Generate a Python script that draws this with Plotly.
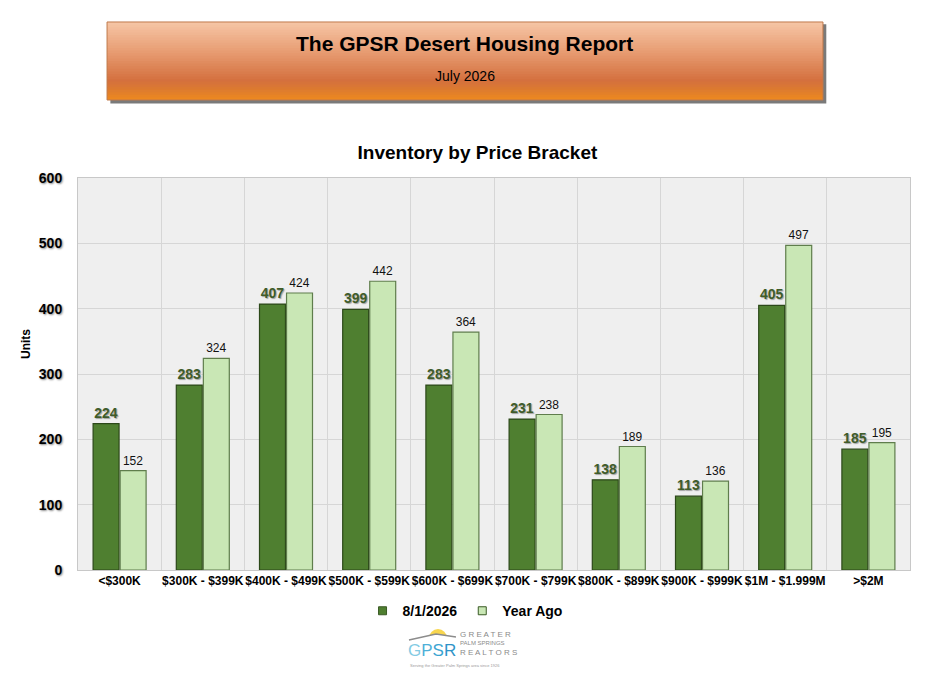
import plotly.graph_objects as go

brackets = ["<$300K", "$300K - $399K", "$400K - $499K", "$500K - $599K", "$600K - $699K",
            "$700K - $799K", "$800K - $899K", "$900K - $999K", "$1M - $1.999M", ">$2M"]
current = [224, 283, 407, 399, 283, 231, 138, 113, 405, 185]
year_ago = [152, 324, 424, 442, 364, 238, 189, 136, 497, 195]
y_ticks = [0, 100, 200, 300, 400, 500, 600]

FONT = "Liberation Sans, Arial, sans-serif"
DARK = "#4f7f30"
LIGHT = "#c9e7b5"

fig = go.Figure()
fig.add_trace(go.Bar(
    x=brackets, y=current, name="8/1/2026", showlegend=False,
    marker=dict(color=DARK, line=dict(color="#2c4819", width=1.2)),
    text=current, textposition="outside", cliponaxis=False,
    textfont=dict(family=FONT, size=14, color="#3f5c2a", weight="bold",
                  shadow="1px 1px 1px #a0a0a0"),
))
fig.add_trace(go.Bar(
    x=brackets, y=year_ago, name="Year Ago", showlegend=False,
    marker=dict(color=LIGHT, line=dict(color="#5f7d4c", width=1.2)),
    text=year_ago, textposition="outside", cliponaxis=False,
    textfont=dict(family=FONT, size=12, color="#111111"),
))
# small square legend keys
for name, col in [("8/1/2026", DARK), ("Year Ago", LIGHT)]:
    fig.add_trace(go.Scatter(x=[None], y=[None], mode="markers", name=name,
                             marker=dict(symbol="square", size=8, color=col,
                                         line=dict(color="#3a5a25", width=1))))


def mix(c1, c2, t):
    a = [int(c1[i:i + 2], 16) for i in (1, 3, 5)]
    b = [int(c2[i:i + 2], 16) for i in (1, 3, 5)]
    return "#" + "".join(f"{round(a[k] + (b[k] - a[k]) * t):02x}" for k in range(3))


# orange banner, gradient faked with thin bands
stops = [(0.0, "#f6c6a6"), (0.35, "#e9a077"), (0.75, "#d4703e"), (0.86, "#dc7a30"), (1.0, "#ee8a1e")]
x0, x1 = 0.0349, 0.8954
ytop, ybot = 1.398, 1.199
n = 30
h = (ytop - ybot) / n
shapes = [dict(type="rect", xref="paper", yref="paper", x0=x0 + 0.004, x1=x1 + 0.004,
               y0=ybot - 0.009, y1=ytop - 0.006, fillcolor="#7a7a7a", line=dict(width=0), layer="below")]
for i in range(n):
    t = (i + 0.5) / n
    for j in range(len(stops) - 1):
        if stops[j][0] <= t <= stops[j + 1][0]:
            c = mix(stops[j][1], stops[j + 1][1], (t - stops[j][0]) / (stops[j + 1][0] - stops[j][0]))
    shapes.append(dict(type="rect", xref="paper", yref="paper", x0=x0, x1=x1,
                       y0=max(ybot, ytop - (i + 1) * h - 0.003), y1=ytop - i * h, fillcolor=c,
                       line=dict(width=0), layer="below"))
shapes.append(dict(type="rect", xref="paper", yref="paper", x0=x0, x1=x1, y0=ybot, y1=ytop,
                   line=dict(color="#c07a4c", width=1)))
# logo: sun rising behind a roof line
shapes.append(dict(type="circle", xref="paper", yref="paper", x0=0.4219, x1=0.4435,
                   y0=-0.1964, y1=-0.1505, fillcolor="#f8d64e", line=dict(width=0)))
shapes.append(dict(type="path", xref="paper", yref="paper",
                   path="M 0.3978 -0.1786 L 0.4303 -0.1633 L 0.4543 -0.1709 L 0.4543 -0.2000 L 0.3978 -0.2000 Z",
                   fillcolor="#ffffff", line=dict(width=0)))
shapes.append(dict(type="path", xref="paper", yref="paper",
                   path="M 0.3978 -0.1786 L 0.4303 -0.1633 L 0.4543 -0.1709",
                   line=dict(color="#8c8c8c", width=1.5)))

gpsr = ("<span style='color:#84cbe3'>G</span><span style='color:#4fb0d8'>P</span>"
        "<span style='color:#3aa5d2'>S</span><span style='color:#2f93c8'>R</span>")
annotations = [
    dict(text="The GPSR Desert Housing Report", x=0.465, y=1.344, xref="paper", yref="paper",
         yanchor="middle", showarrow=False,
         font=dict(family=FONT, size=21, color="#000000", weight="bold")),
    dict(text="July 2026", x=0.465, y=1.260, xref="paper", yref="paper", yanchor="middle",
         showarrow=False, font=dict(family=FONT, size=14, color="#000000")),
    dict(text="Units", x=-0.0625, y=0.5765, xref="paper", yref="paper", textangle=-90,
         xanchor="center", yanchor="middle", showarrow=False,
         font=dict(family=FONT, size=12, color="#000000", weight="bold")),
    dict(text=gpsr, x=0.4255, y=-0.2066, xref="paper", yref="paper", yanchor="middle",
         showarrow=False, font=dict(family=FONT, size=17)),
    dict(text="G R E A T E R", x=0.4567, y=-0.1650, xref="paper", yref="paper",
         xanchor="left", yanchor="middle", showarrow=False,
         font=dict(family=FONT, size=8, color="#8a8a8a")),
    dict(text="PALM SPRINGS", x=0.4567, y=-0.1865, xref="paper", yref="paper",
         xanchor="left", yanchor="middle", showarrow=False,
         font=dict(family=FONT, size=6, color="#8a8a8a")),
    dict(text="R E A L T O R S", x=0.4567, y=-0.2095, xref="paper", yref="paper",
         xanchor="left", yanchor="middle", showarrow=False,
         font=dict(family=FONT, size=8, color="#8a8a8a")),
    dict(text="Serving the Greater Palm Springs area since 1926", x=0.4531, y=-0.2440,
         xref="paper", yref="paper", yanchor="middle", showarrow=False,
         font=dict(family=FONT, size=4, color="#9a9a9a")),
]

fig.update_layout(
    width=937, height=680,
    margin=dict(l=70, r=35, t=170, b=118),
    paper_bgcolor="#ffffff", plot_bgcolor="#efefef",
    barmode="group", bargap=0.35, bargroupgap=0.04,
    title=dict(text="Inventory by Price Bracket", x=0.501, xanchor="center", y=0.787, yanchor="middle",
               font=dict(family=FONT, size=19, color="#000000", weight="bold")),
    font=dict(family=FONT),
    xaxis=dict(type="category", tickson="boundaries", showgrid=True, gridcolor="#d6d6d6",
               ticks="", showline=True, linecolor="#c8c8c8", mirror=True, tickangle=0,
               tickfont=dict(family=FONT, size=12, color="#000000", weight="bold")),
    yaxis=dict(range=[0, 600], tickvals=y_ticks, gridcolor="#d6d6d6", showline=True,
               linecolor="#c8c8c8", mirror=True, zeroline=False, ticks="", ticklabelstandoff=12,
               tickfont=dict(family=FONT, size=14, color="#000000", weight="bold",
                             shadow="1px 1px 2px #8a8a8a")),
    legend=dict(orientation="h", x=0.4652, xanchor="center", y=-0.105, yanchor="middle",
                font=dict(family=FONT, size=14, color="#000000", weight="bold"),
                itemwidth=30, tracegroupgap=0),
    shapes=shapes, annotations=annotations,
)

fig.write_html("out.html")
